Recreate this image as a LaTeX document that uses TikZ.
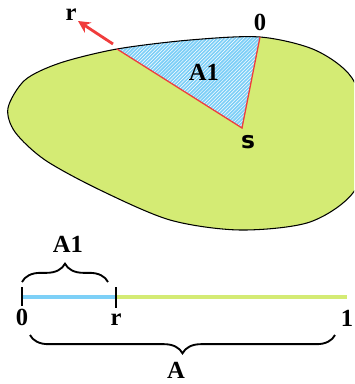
\documentclass[tikz,border=0pt]{standalone}
\usepackage{fontspec}
\setmainfont{Liberation Serif}
\newfontfamily\sansfont{DejaVu Sans}
\usetikzlibrary{arrows.meta,calc,patterns,decorations.pathreplacing}
\definecolor{blobc}{HTML}{D4EB74}
\definecolor{skyc}{HTML}{7DD0F7}
\definecolor{hatchc}{HTML}{7DCFF7}
\definecolor{rayc}{HTML}{F03C3C}
\tikzset{
  lbl/.style    ={font=\fontsize{21}{24}\selectfont\bfseries,inner sep=0pt},
  slbl/.style   ={font=\fontsize{20}{24}\selectfont\sansfont\bfseries,inner sep=0pt},
  outline/.style={draw=black,line width=0.9pt},
  edge/.style   ={draw=rayc,line width=1.1pt},
  ray/.style    ={-{Stealth[length=3.6mm,width=3.6mm]},draw=rayc,line width=2.4pt},
  seg/.style    ={line width=3.4pt},
  tick/.style   ={line width=1.6pt},
  brace/.style  ={decorate,line width=1.6pt,
                  decoration={brace,amplitude=#1}},
}

\begin{document}
\begin{tikzpicture}[x=0.03cm,y=-0.03cm]
  \useasboundingbox (0,0) rectangle (354,384);
  \clip (0,0) rectangle (354,384);

  % the region and the sector A1
  \coordinate (s)  at (242,128);
  \coordinate (pr) at (117,49);
  \coordinate (p0) at (260,37);
  \fill[blobc] plot[smooth cycle] coordinates {(8,108) (25,80) (60,63) (117,49) (190,40) (260,37)
      (315,50) (352,78) (368,130) (355,190) (310,222) (240,230) (170,220) (100,190) (45,160) (15,132)};
  \begin{scope}
    \clip plot[smooth cycle] coordinates {(8,108) (25,80) (60,63) (117,49) (190,40) (260,37)
      (315,50) (352,78) (368,130) (355,190) (310,222) (240,230) (170,220) (100,190) (45,160) (15,132)};
    \fill[hatchc] (s) -- ($(s)!1.6!(pr)$) -- ($(s)!1.6!(p0)$) -- cycle;
    \fill[pattern=north east lines,pattern color=white] (s) -- ($(s)!1.6!(pr)$) -- ($(s)!1.6!(p0)$) -- cycle;
  \end{scope}
  \draw[outline] plot[smooth cycle] coordinates {(8,108) (25,80) (60,63) (117,49) (190,40) (260,37)
      (315,50) (352,78) (368,130) (355,190) (310,222) (240,230) (170,220) (100,190) (45,160) (15,132)};
  \draw[edge] (pr) -- (s) -- (p0);

  \coordinate (rt) at (113,44);
  \coordinate (rh) at (78,21);
  \draw[ray] (rt) -- (rh);

  \node[lbl]  (rlab) at (71,15)  {r};
  \node[lbl]  (zlab) at (260,22) {0};
  \node[lbl]  (alab) at (204,72) {A1};
  \node[slbl] (slab) at (248,142) {s};

  % the unit interval
  \coordinate (z)   at (22,297);
  \coordinate (r)   at (116,297);
  \coordinate (one) at (347,297);
  \draw[seg,skyc]  (z) -- (r);
  \draw[seg,blobc] (r) -- (one);
  \draw[tick] ($(z)+(0,-10)$) -- ($(z)+(0,9)$);
  \draw[tick] ($(r)+(0,-10)$) -- ($(r)+(0,11)$);
  \node[lbl] (z0)  at (22,317)  {0};
  \node[lbl] (zr)  at (116,320) {r};
  \node[lbl] (z1)  at (347,318) {1};

  \draw[brace=0.55cm]  (22,282) -- (108,282);
  \node[lbl] (ba1) at (68,244) {A1};
  \draw[brace=0.55cm] (335,335) -- (30,335);
  \node[lbl] (ba)  at (176,370) {A};
\end{tikzpicture}
\end{document}
